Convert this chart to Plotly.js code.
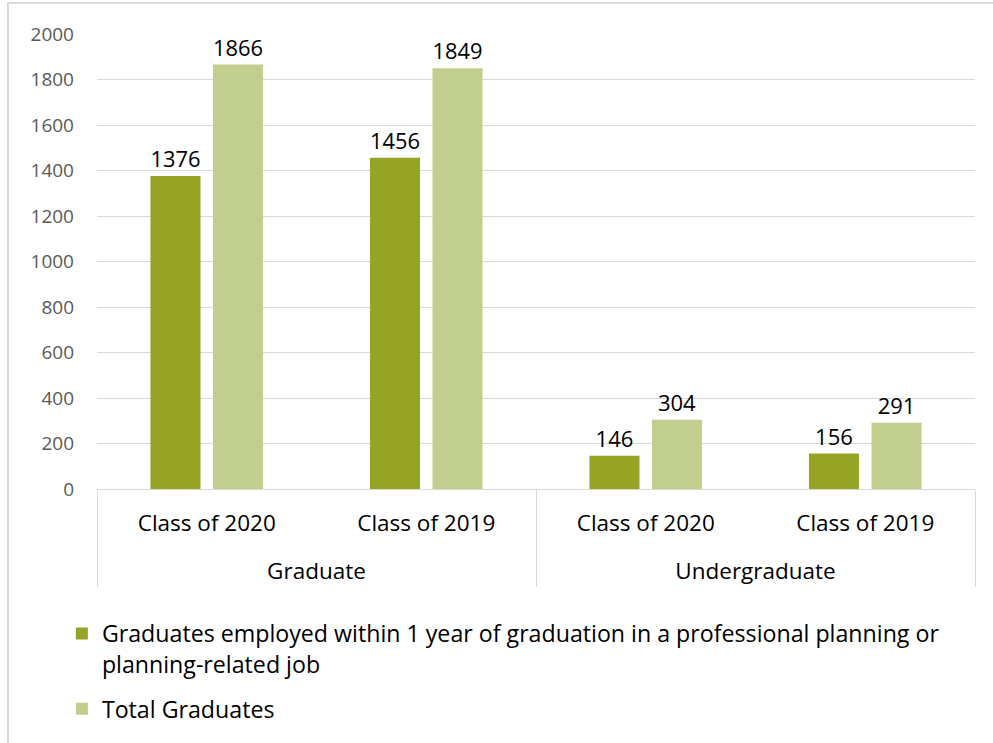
<!DOCTYPE html>
<html>
<head>
<meta charset="utf-8">
<script src="https://cdn.plot.ly/plotly-3.0.1.min.js"></script>
<style>
  html, body { margin: 0; padding: 0; background: #ffffff; }
  #chart { width: 993px; height: 743px; }
</style>
</head>
<body>
<div id="chart"></div>
<script>
const groups = ["Graduate", "Graduate", "Undergraduate", "Undergraduate"];
const classes = ["Class of 2020", "Class of 2019", "Class of 2020", "Class of 2019"];
const employed = [1376, 1456, 146, 156];
const total = [1866, 1849, 304, 291];
const seriesNames = [
  "Graduates employed within 1 year of graduation in a professional planning or<br>planning-related job",
  "Total Graduates"
];
const yTicks = [0, 200, 400, 600, 800, 1000, 1200, 1400, 1600, 1800, 2000];

const FONT = "'Open Sans', Lato, sans-serif";
// a leading empty line on the outer category labels pushes them lower, as in the reference
const groupLabels = groups.map(g => "\u00a0<br>" + g);

const traces = [
  {
    type: "bar",
    name: seriesNames[0],
    legendgroup: "a",
    x: [groupLabels, classes],
    y: employed,
    marker: { color: "#95a424" },
    text: employed.map(String),
    textposition: "outside",
    cliponaxis: false,
    textfont: { family: FONT, size: 22, color: "#000000" }
  },
  {
    type: "bar",
    name: seriesNames[1],
    legendgroup: "b",
    x: [groupLabels, classes],
    y: total,
    marker: { color: "#c2ce8d" },
    text: total.map(String),
    textposition: "outside",
    cliponaxis: false,
    textfont: { family: FONT, size: 22, color: "#000000" }
  }
];

const layout = {
  width: 993,
  height: 743,
  margin: { l: 97, r: 18, t: 34, b: 254 },
  paper_bgcolor: "#ffffff",
  plot_bgcolor: "#ffffff",
  font: { family: FONT, color: "#000000" },
  barmode: "group",
  bargap: 0.43,
  bargroupgap: 0.2,
  showlegend: true,
  legend: {
    orientation: "v",
    x: -0.04,
    xanchor: "left",
    y: -0.27,
    yanchor: "top",
    valign: "top",
    font: { family: FONT, size: 23.2, color: "#000000" },
    tracegroupgap: 12,
    traceorder: "grouped",
    bgcolor: "rgba(0,0,0,0)"
  },
  xaxis: {
    type: "multicategory",
    showline: true,
    linecolor: "#d9d9d9",
    linewidth: 1,
    showgrid: false,
    showdividers: true,
    dividercolor: "#d9d9d9",
    dividerwidth: 1,
    ticks: "",
    ticklabelstandoff: 14,
    tickfont: { family: FONT, size: 22.5, color: "#000000" }
  },
  yaxis: {
    range: [0, 2000],
    tickvals: yTicks,
    ticktext: yTicks.map(String),
    showgrid: true,
    gridcolor: "#d9d9d9",
    gridwidth: 1,
    zeroline: false,
    showline: false,
    ticks: "",
    ticklabelstandoff: 22,
    tickfont: { family: FONT, size: 19, color: "#595959" }
  },
  shapes: [
    { type: "line", xref: "paper", yref: "paper", x0: -0.1014, x1: -0.1014, y0: 1.07, y1: -0.6, line: { color: "#d9d9d9", width: 2 } },
    { type: "line", xref: "paper", yref: "paper", x0: -0.1014, x1: 1.03, y0: 1.068, y1: 1.068, line: { color: "#d9d9d9", width: 2 } }
  ]
};

Plotly.newPlot("chart", traces, layout, { displayModeBar: false, staticPlot: true });
</script>
</body>
</html>
